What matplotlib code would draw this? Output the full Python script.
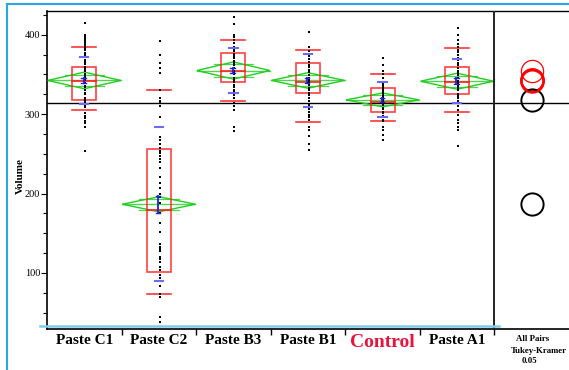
import matplotlib
matplotlib.use("Agg")
import matplotlib.pyplot as plt
from matplotlib.patches import Polygon, Rectangle
from matplotlib.lines import Line2D

# ---------------- data ----------------
groups = ["Paste C1", "Paste C2", "Paste B3", "Paste B1", "Control", "Paste A1"]

vol_c1 = [415, 400, 398, 396, 394, 391, 388, 386, 383, 381, 377, 374, 372, 368, 366, 363,
          360, 357, 355, 351, 348, 345, 343, 339, 336, 334, 330, 327, 325, 321, 318, 315,
          312, 309, 301, 298, 295, 292, 289, 284, 253]
vol_c2 = [392, 375, 364, 358, 352, 331, 320, 317, 314, 310, 297, 271, 268, 263, 257, 254,
          251, 247, 243, 240, 232, 221, 213, 207, 200, 196, 188, 175, 163, 151, 137, 133,
          130, 127, 120, 117, 114, 108, 104, 97, 93, 83, 74, 70, 45, 38]
vol_b3 = [423, 413, 400, 397, 394, 390, 385, 382, 380, 376, 373, 371, 367, 364, 362, 358,
          355, 352, 350, 346, 343, 341, 337, 334, 331, 328, 324, 320, 314, 310, 305, 284, 279]
vol_b1 = [403, 385, 379, 373, 369, 366, 362, 359, 356, 353, 349, 346, 343, 340, 337, 333,
          330, 327, 324, 320, 317, 313, 310, 306, 303, 299, 296, 293, 284, 280, 272, 263, 255]
vol_ctrl = [371, 362, 354, 350, 345, 341, 338, 336, 333, 331, 328, 326, 323, 321, 318, 316,
            313, 311, 308, 306, 303, 301, 298, 296, 293, 291, 284, 280, 274, 268]
vol_a1 = [408, 400, 394, 389, 385, 381, 378, 375, 371, 368, 365, 362, 358, 355, 352, 349,
          346, 342, 339, 336, 333, 330, 326, 323, 320, 317, 314, 310, 305, 299, 293, 289,
          284, 280, 260]
volumes = [vol_c1, vol_c2, vol_b3, vol_b1, vol_ctrl, vol_a1]

# summary statistics
means = [342.5, 186.5, 355, 342.5, 318, 341.5]
ci_half = [10.5, 9.5, 10.8, 9.8, 8.7, 10.1]
std_dev = [30, 97, 28, 33, 22, 28]
std_err = [3.2, 11, 3.6, 3.6, 3.0, 3.6]
q10 = [305, 73, 317, 290, 291, 303]
q25 = [318, 101, 340, 326.5, 303, 325]
q50 = [342, 179, 354, 341, 315, 341]
q75 = [359, 256, 377, 365, 333.5, 359]
q90 = [384.5, 330, 393, 381, 351, 383]
grand_mean = 314

circle_color = ["red", "black", "red", "red", "black", "red"]
circle_lw = [1.6, 1.4, 0.9, 1.6, 1.4, 1.6]

yticks_major = [100, 200, 300, 400]
ylim = (29.3, 430)

# ---------------- figure ----------------
W, H = 569, 370
fig = plt.figure(figsize=(W / 100, H / 100), dpi=100)
serif = "Liberation Serif"

L, R, B, T = 47, 569, 329, 11
ax = fig.add_axes([L / W, 1 - B / H, (R - L) / W, (B - T) / H])
ax.set_xlim(0, 7)
ax.set_ylim(*ylim)

green = "#22cc22"
red = "#ff2020"
blue_sd = "#6a6aff"
blue_se = "#2020dd"

for i, g in enumerate(groups):
    c = i + 0.5
    m, h = means[i], ci_half[i]
    # means diamond
    ax.add_patch(Polygon([(c - 0.49, m), (c, m + h), (c + 0.49, m), (c, m - h)],
                         closed=True, fill=False, ec=green, lw=1.0, zorder=3))
    ax.plot([c - 0.49, c + 0.49], [m, m], color=green, lw=1.0, alpha=0.8, zorder=3)
    k = 0.7071
    hw = 0.49 * (1 - k)
    for s in (1, -1):
        ax.plot([c - hw - 0.12, c + hw + 0.12], [m + s * k * h, m + s * k * h],
                color=green, lw=0.9, alpha=0.8, zorder=3)
    # quantile box
    bw = 0.16
    ax.add_patch(Rectangle((c - bw, q25[i]), 2 * bw, q75[i] - q25[i], fill=False,
                           ec=red, lw=1.2, alpha=0.85, zorder=4))
    ax.plot([c - bw, c + bw], [q50[i], q50[i]], color=red, lw=1.2, zorder=4)
    for q in (q10[i], q90[i]):
        ax.plot([c - bw, c + bw], [q, q], color=red, lw=1.2, alpha=0.9, zorder=4)
    # points
    ax.plot([c + 0.01] * len(volumes[i]), volumes[i], ls="none", marker="s", ms=2.1,
            mfc="black", mec="black", mew=0, zorder=5)
    # std dev lines
    for v in (m - std_dev[i], m + std_dev[i]):
        ax.plot([c - 0.055, c + 0.055], [v, v], color=blue_sd, lw=1.5, zorder=6)
    # mean error bar
    ax.plot([c - 0.01, c - 0.01], [m - std_err[i], m + std_err[i]], color=blue_se, lw=1.3, zorder=6)
    for v in (m - std_err[i], m + std_err[i]):
        ax.plot([c - 0.04, c + 0.02], [v, v], color=blue_se, lw=1.0, zorder=6)
    # comparison circle
    ax.plot([6.5], [m], ls="none", marker="o", ms=16, mfc="none",
            mec=circle_color[i], mew=circle_lw[i], zorder=5)

# grand mean line and separator
ax.axhline(grand_mean, color="black", lw=1.0, zorder=2)
ax.axvline(6.0, color="#222222", lw=1.4, zorder=7)

# spines
ax.spines["right"].set_visible(False)
ax.spines["top"].set_linewidth(1.0)
ax.spines["left"].set_linewidth(1.2)
ax.spines["bottom"].set_linewidth(1.2)

# y axis
ax.set_yticks(yticks_major)
ax.set_yticks(list(range(50, 430, 25)), minor=True)
ax.set_yticklabels([str(v) for v in yticks_major], fontfamily=serif, fontsize=7.5)
ax.tick_params(axis="y", which="major", direction="out", length=4, width=0.8, pad=1)
ax.tick_params(axis="y", which="minor", direction="out", length=3, width=0.8)
ax.set_ylabel("Volume", fontfamily=serif, fontweight="bold", fontsize=8)
ax.yaxis.set_label_coords(-0.043, 0.48)

# x axis (category separators)
ax.set_xticks([1, 2, 3, 4, 5, 6])
ax.set_xticklabels([])
ax.tick_params(axis="x", direction="out", length=4, width=1.0)
sep_colors = [red, "black", red, red, "black", red]
for t, col in zip(ax.xaxis.get_major_ticks(), sep_colors):
    t.tick1line.set_color(col)

for i, g in enumerate(groups):
    if g == "Control":
        ax.text(i + 0.5, -0.042, g, transform=ax.get_xaxis_transform(), ha="center", va="center",
                fontfamily=serif, fontweight="bold", fontsize=14, color="#e8123c")
    else:
        ax.text(i + 0.5, -0.036, g, transform=ax.get_xaxis_transform(), ha="center", va="center",
                fontfamily=serif, fontweight="bold", fontsize=11, color="black")

ax.text(6.51, -0.03, "All Pairs", transform=ax.get_xaxis_transform(), ha="center", va="center",
        fontfamily=serif, fontweight="bold", fontsize=6.3)
ax.text(6.6, -0.068, "Tukey-Kramer", transform=ax.get_xaxis_transform(), ha="center", va="center",
        fontfamily=serif, fontweight="bold", fontsize=6.3)
ax.text(6.47, -0.1, "0.05", transform=ax.get_xaxis_transform(), ha="center", va="center",
        fontfamily=serif, fontweight="bold", fontsize=6.3)

# decorative light-blue frame lines
cyan = "#29a8e0"
fig.add_artist(Line2D([7 / W, 7 / W], [0, 1 - 4 / H], color=cyan, lw=1.5))
fig.add_artist(Line2D([7 / W, 1], [1 - 4 / H, 1 - 4 / H], color=cyan, lw=1.5))
fig.add_artist(Line2D([40 / W, 499 / W], [1 - 326 / H, 1 - 326 / H], color="#7fcbef", lw=1.8))

fig.savefig("out.png", dpi=100)
